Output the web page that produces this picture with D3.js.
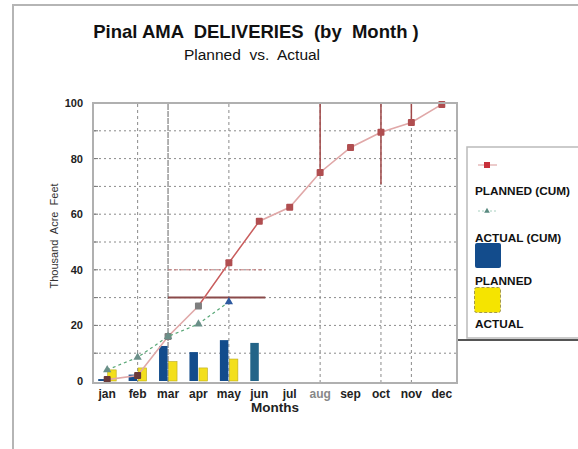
<!DOCTYPE html>
<html>
<head>
<meta charset="utf-8">
<script src="https://cdn.jsdelivr.net/npm/d3@7"></script>
<style>
  body { margin: 0; background: #fff; }
  svg { display: block; font-family: "Liberation Sans", Arial, sans-serif; }
</style>
</head>
<body>
<div id="chart"></div>
<script>
const months = ['jan', 'feb', 'mar', 'apr', 'may', 'jun', 'jul', 'aug', 'sep', 'oct', 'nov', 'dec'];
const plannedCum = [0.5, 2, 16, 27, 42.5, 57.5, 62.5, 75, 84, 89.5, 93, 99.5];
const actualCum = [4, 8.5, 16, 20.5, 28.5];
const planned = [0.7, 2.3, 12.6, 10.4, 14.7, 13.7];
const actual = [4, 4.7, 7, 4.7, 7.9];
const yTicks = [0, 20, 40, 60, 80, 100];
const gridLevels = [10, 20, 30, 40, 50, 60, 70, 80, 90];
const gridMonths = ['feb', 'mar', 'may', 'aug', 'oct', 'nov'];
const dropMonths = ['aug', 'oct', 'nov'];
const refLevels = [30, 40];
const legendItems = ['PLANNED (CUM)', 'ACTUAL (CUM)', 'PLANNED', 'ACTUAL'];

const width = 578, height = 449;

const svg = d3.select('#chart').append('svg')
    .attr('width', width)
    .attr('height', height);

// page frame
svg.append('path')
    .attr('d', 'M13,449 L13,5 L578,5')
    .attr('fill', 'none')
    .attr('stroke', '#b5b5b5')
    .attr('stroke-width', 2);

// titles
svg.append('text')
    .attr('x', 256).attr('y', 38)
    .attr('text-anchor', 'middle')
    .style('font-size', '18.5px').style('font-weight', 'bold')
    .attr('fill', '#111')
    .attr('xml:space', 'preserve')
    .text('Pinal AMA  DELIVERIES  (by  Month )');

svg.append('text')
    .attr('x', 252).attr('y', 60)
    .attr('text-anchor', 'middle')
    .style('font-size', '15.5px')
    .attr('fill', '#111')
    .attr('xml:space', 'preserve')
    .text('Planned  vs.  Actual');

const x = d3.scaleBand().domain(months).range([92, 457]).padding(0);
const xc = m => x(m) + x.bandwidth() / 2;
const y = d3.scaleLinear().domain([0, 100]).range([381, 103]);

// horizontal grid
svg.append('g').selectAll('line')
    .data(gridLevels)
    .join('line')
    .attr('x1', 94).attr('x2', 456)
    .attr('y1', d => y(d)).attr('y2', d => y(d))
    .attr('stroke', '#8a8a8a')
    .attr('stroke-width', 1)
    .attr('stroke-dasharray', '2,3');

// vertical grid
svg.append('g').selectAll('line')
    .data(gridMonths)
    .join('line')
    .attr('x1', d => xc(d)).attr('x2', d => xc(d))
    .attr('y1', 104).attr('y2', 382)
    .attr('stroke', d => d === 'mar' ? '#666' : '#8a8a8a')
    .attr('stroke-width', 1)
    .attr('stroke-dasharray', d => d === 'mar' ? '6,1' : '3,3');

// reference levels
svg.append('g').selectAll('line')
    .data(refLevels)
    .join('line')
    .attr('x1', xc('mar')).attr('x2', xc('jun') + 6)
    .attr('y1', d => y(d)).attr('y2', d => y(d))
    .attr('stroke', (d, i) => i === 0 ? '#8a4a4a' : '#c07a7a')
    .attr('stroke-width', (d, i) => i === 0 ? 2 : 1)
    .attr('stroke-dasharray', (d, i) => i === 0 ? null : '4,2');

// red drop lines
svg.append('g').selectAll('line')
    .data(dropMonths)
    .join('line')
    .attr('x1', d => xc(d)).attr('x2', d => xc(d))
    .attr('y1', 104)
    .attr('y2', d => d === 'oct' ? y(plannedCum[months.indexOf(d)]) + 52 : y(plannedCum[months.indexOf(d)]) + 2)
    .attr('stroke', '#a04848')
    .attr('stroke-width', 1.5);

// bars
const bw = 8.5;
svg.append('g').selectAll('rect')
    .data(planned)
    .join('rect')
    .attr('x', (d, i) => xc(months[i]) - bw - 0.5)
    .attr('y', d => y(d))
    .attr('width', bw)
    .attr('height', d => y(0) - y(d))
    .attr('fill', (d, i) => i === 5 ? '#236488' : '#134c8c');

svg.append('g').selectAll('rect')
    .data(actual)
    .join('rect')
    .attr('x', (d, i) => xc(months[i]) + 0.5)
    .attr('y', d => y(d))
    .attr('width', bw)
    .attr('height', d => y(0) - y(d))
    .attr('fill', '#f3df1c')
    .attr('stroke', '#b8a820')
    .attr('stroke-width', 0.6);

// planned cumulative line
const line = d3.line()
    .x((d, i) => xc(months[i]))
    .y(d => y(d));

svg.append('path')
    .datum(plannedCum)
    .attr('d', line)
    .attr('fill', 'none')
    .attr('stroke', '#e0a8a8')
    .attr('stroke-width', 1.6);

svg.append('path')
    .datum(plannedCum.slice(3, 6))
    .attr('d', d3.line().x((d, i) => xc(months[i + 3])).y(d => y(d)))
    .attr('fill', 'none')
    .attr('stroke', '#c85a5a')
    .attr('stroke-width', 1.2);

svg.append('g').selectAll('rect')
    .data(plannedCum)
    .join('rect')
    .attr('x', (d, i) => xc(months[i]) - 3.5)
    .attr('y', d => y(d) - 3.5)
    .attr('width', 7).attr('height', 7)
    .attr('rx', 1)
    .attr('fill', (d, i) => i === 2 || i === 3 ? '#7e7e7e' : (i < 2 ? '#6a3a3a' : '#b04e50'));

// actual cumulative line
svg.append('path')
    .datum(actualCum)
    .attr('d', line)
    .attr('fill', 'none')
    .attr('stroke', '#5aa878')
    .attr('stroke-width', 1.2)
    .attr('stroke-dasharray', '3,3');

const tri = d3.symbol().type(d3.symbolTriangle).size(30);
svg.append('g').selectAll('path')
    .data(actualCum)
    .join('path')
    .attr('d', tri)
    .attr('transform', (d, i) => `translate(${xc(months[i])},${y(d)})`)
    .attr('fill', (d, i) => i === 4 ? '#2d5aa0' : '#6a8f88');

// plot frame
svg.append('rect')
    .attr('x', 93).attr('y', 103)
    .attr('width', 364).attr('height', 280)
    .attr('fill', 'none')
    .attr('stroke', '#b0b0b0')
    .attr('stroke-width', 2);

// y ticks
svg.append('g').selectAll('line')
    .data(d3.range(10, 100, 10))
    .join('line')
    .attr('x1', 94).attr('x2', 98)
    .attr('y1', d => y(d)).attr('y2', d => y(d))
    .attr('stroke', '#777');

svg.append('g').selectAll('text')
    .data(yTicks)
    .join('text')
    .attr('x', 83)
    .attr('y', d => y(d) + 4)
    .attr('text-anchor', 'end')
    .style('font-size', '11px').style('font-weight', 'bold')
    .attr('fill', '#222')
    .text(d => d);

// month labels
svg.append('g').selectAll('text')
    .data(months)
    .join('text')
    .attr('x', d => xc(d))
    .attr('y', 398)
    .attr('text-anchor', 'middle')
    .style('font-size', '12px').style('font-weight', 'bold')
    .attr('fill', d => d === 'aug' ? '#888' : '#222')
    .text(d => d);

svg.append('text')
    .attr('x', 275).attr('y', 412)
    .attr('text-anchor', 'middle')
    .style('font-size', '13.5px').style('font-weight', 'bold')
    .attr('fill', '#222')
    .text('Months');

svg.append('text')
    .attr('transform', 'translate(58,236) rotate(-90)')
    .attr('text-anchor', 'middle')
    .style('font-size', '11px')
    .attr('fill', '#333')
    .attr('xml:space', 'preserve')
    .text('Thousand  Acre  Feet');

// legend
const lg = svg.append('g');
lg.append('line')
    .attr('x1', 458).attr('x2', 578).attr('y1', 340).attr('y2', 340)
    .attr('stroke', '#555').attr('stroke-width', 2);
lg.append('path')
    .attr('d', 'M578,147 L467,147 L467,338 L578,338')
    .attr('fill', 'none')
    .attr('stroke', '#bbb')
    .attr('stroke-width', 1.5);

lg.append('line')
    .attr('x1', 478).attr('x2', 497).attr('y1', 165).attr('y2', 165)
    .attr('stroke', '#e0a8a8').attr('stroke-width', 1.2);
lg.append('rect')
    .attr('x', 484).attr('y', 162).attr('width', 6).attr('height', 6)
    .attr('fill', '#c8303a');

lg.append('line')
    .attr('x1', 478).attr('x2', 497).attr('y1', 211).attr('y2', 211)
    .attr('stroke', '#a8d0c0').attr('stroke-width', 1)
    .attr('stroke-dasharray', '2,2');
lg.append('path')
    .attr('d', d3.symbol().type(d3.symbolTriangle).size(14))
    .attr('transform', 'translate(487,211)')
    .attr('fill', '#5a8a80');

lg.append('rect')
    .attr('x', 475).attr('y', 243).attr('width', 26).attr('height', 25)
    .attr('rx', 2)
    .attr('fill', '#134c8c');
lg.append('rect')
    .attr('x', 474.5).attr('y', 287.5).attr('width', 26).attr('height', 25)
    .attr('rx', 2)
    .attr('fill', '#f5e400')
    .attr('stroke', '#8a8040').attr('stroke-width', 0.8)
    .attr('stroke-dasharray', '3,2');

lg.selectAll('text')
    .data(legendItems)
    .join('text')
    .attr('x', 475)
    .attr('y', (d, i) => [195, 242, 285, 328][i])
    .style('font-size', '11.8px').style('font-weight', 'bold')
    .attr('fill', '#111')
    .text(d => d);
</script>
</body>
</html>
